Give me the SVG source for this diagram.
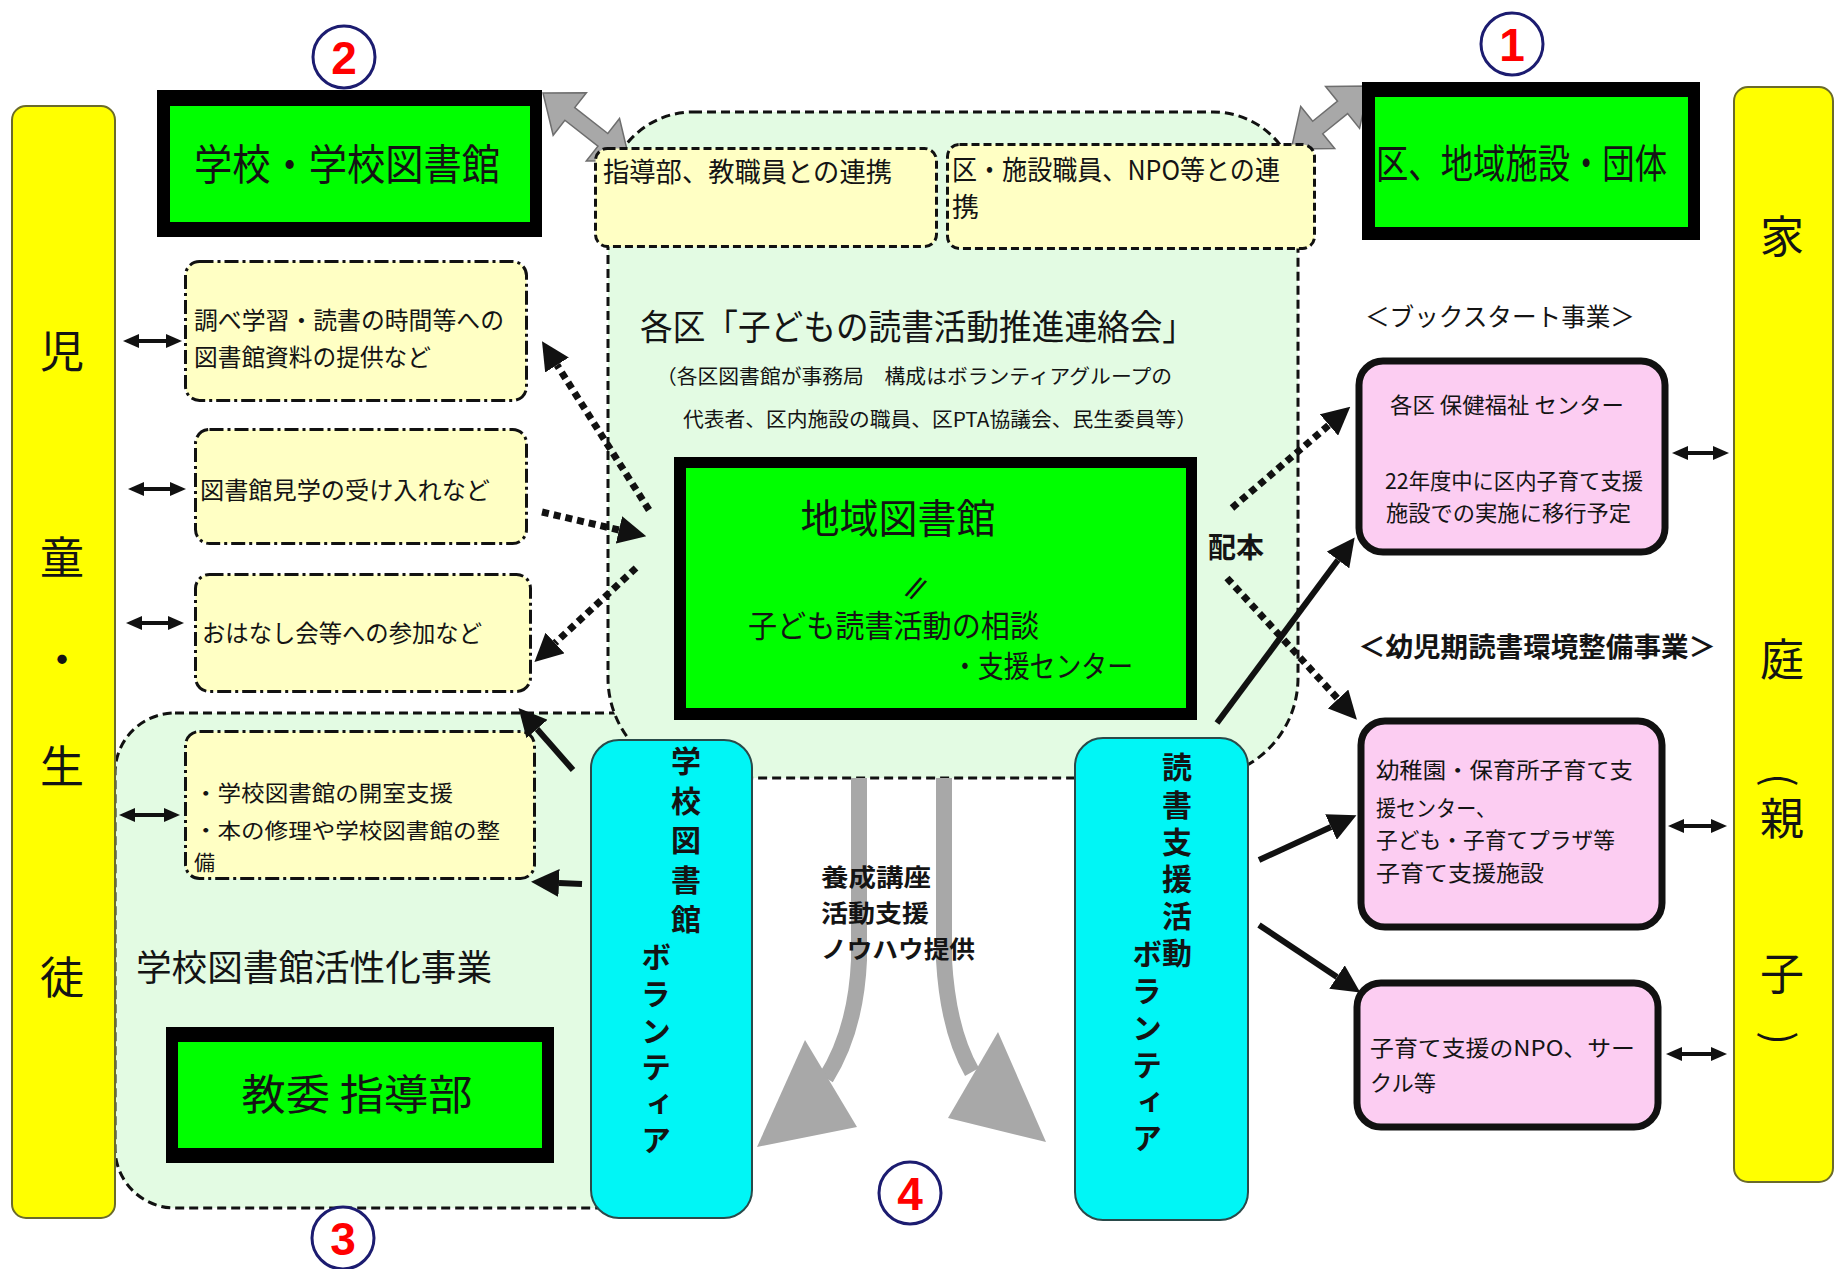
<svg xmlns="http://www.w3.org/2000/svg" width="1836" height="1269" viewBox="0 0 1836 1269">
<defs>
<style>
.jp{font-family:"Noto Sans CJK JP","Noto Sans CJK SC",sans-serif;fill:#141414;}
.b{font-weight:bold;}
.vt{writing-mode:vertical-rl;font-weight:bold;font-size:30px;}
.region{fill:#e3fbe3;stroke:#111;stroke-width:3;stroke-dasharray:9 5;}
.note{fill:#ffffc4;stroke:#111;stroke-width:3;stroke-dasharray:8 4;}
.dd{fill:#ffffc4;stroke:#111;stroke-width:3;stroke-dasharray:14 4 3 4;}
.bar{fill:#ffff00;stroke:#6b6b2a;stroke-width:2;}
.cyan{fill:#00f6f6;stroke:#2a4a4a;stroke-width:2;}
.pink{fill:#fccdf2;stroke:#111;stroke-width:7;}
.gout{fill:#000;}
.gin{fill:#00ff00;}
.dot{fill:none;stroke:#111;stroke-width:7;stroke-dasharray:7 5;marker-end:url(#ah);}
.sol{fill:none;stroke:#111;stroke-width:6;marker-end:url(#ah);}
.dbl{fill:none;stroke:#111;stroke-width:4;marker-start:url(#sh);marker-end:url(#sh);}
.gray{fill:#a8a8a8;stroke:#6e6e6e;stroke-width:1.5;}
.gshaft{fill:none;stroke:#a8a8a8;stroke-width:16;}
.numc{fill:#fff;stroke:#1c1c70;stroke-width:3;}
.num{font-family:"Liberation Sans",Arial,sans-serif;font-weight:bold;font-size:46px;fill:#ff0000;text-anchor:middle;}
.vc{text-anchor:middle;}
</style>
<marker id="ah" viewBox="0 0 28 28" refX="0" refY="14" markerWidth="28" markerHeight="28" markerUnits="userSpaceOnUse" orient="auto"><path d="M0,0 L28,14 L0,28 z" fill="#111"/></marker>
<marker id="sh" viewBox="0 0 16 14" refX="3" refY="7" markerWidth="16" markerHeight="14" markerUnits="userSpaceOnUse" orient="auto-start-reverse"><path d="M0,0 L16,7 L0,14 z" fill="#111"/></marker>
</defs>
<rect width="1836" height="1269" fill="#fff"/>

<g id="region-school">
<rect class="region" x="115" y="713" width="585" height="495" rx="60"/>
</g>
<g id="region-council">
<path class="region" d="M693 112 H1213 A85 85 0 0 1 1298 197 V678 A100 100 0 0 1 1198 778 H708 A100 100 0 0 1 608 678 V197 A85 85 0 0 1 693 112 Z"/>
<text class="jp" x="640" y="340" font-size="35" textLength="555" lengthAdjust="spacingAndGlyphs">各区「子どもの読書活動推進連絡会」</text>
<text class="jp" x="656" y="384" font-size="20" textLength="516" lengthAdjust="spacingAndGlyphs">（各区図書館が事務局　構成はボランティアグループの</text>
<text class="jp" x="683" y="427" font-size="20" textLength="514" lengthAdjust="spacingAndGlyphs">代表者、区内施設の職員、区PTA協議会、民生委員等）</text>
</g>

<g id="gray-arrows-top">
<g transform="translate(543,93) rotate(38)"><polygon class="gray" points="0,0 34,-27 34,-8 76,-8 76,-27 110,0 76,27 76,8 34,8 34,27"/></g>
<g transform="translate(1369,86) rotate(141)"><polygon class="gray" points="0,0 34,-27 34,-8 66,-8 66,-27 100,0 66,27 66,8 34,8 34,27"/></g>
</g>

<g id="bar-children">
<rect class="bar" x="12" y="106" width="103" height="1112" rx="14"/>
<text class="jp vc" x="62" y="368" font-size="44">児</text>
<text class="jp vc" x="62" y="574" font-size="44">童</text>
<text class="jp vc" x="62" y="676" font-size="44">・</text>
<text class="jp vc" x="62" y="783" font-size="44">生</text>
<text class="jp vc" x="62" y="994" font-size="44">徒</text>
</g>
<g id="bar-family">
<rect class="bar" x="1734" y="87" width="99" height="1095" rx="14"/>
<text class="jp vc" x="1782" y="253" font-size="44">家</text>
<text class="jp vc" x="1782" y="676" font-size="44">庭</text>
<text class="jp vc" font-size="40" transform="translate(1782,780) rotate(90)" dominant-baseline="central">(</text>
<text class="jp vc" x="1782" y="835" font-size="44">親</text>
<text class="jp vc" x="1782" y="990" font-size="44">子</text>
<text class="jp vc" font-size="40" transform="translate(1782,1038) rotate(90)" dominant-baseline="central">)</text>
</g>

<g id="school-library">
<rect class="gout" x="157" y="90" width="385" height="147"/>
<rect class="gin" x="170" y="106" width="360" height="116"/>
<text class="jp vc" x="347" y="180" font-size="42" textLength="306" lengthAdjust="spacingAndGlyphs">学校・学校図書館</text>
</g>
<g id="ward-facilities">
<rect class="gout" x="1362" y="82" width="338" height="158"/>
<rect class="gin" x="1375" y="97" width="313" height="130"/>
<text class="jp" x="1376" y="178" font-size="40" textLength="291" lengthAdjust="spacingAndGlyphs">区、地域施設・団体</text>
</g>
<g id="local-library">
<rect class="gout" x="674" y="457" width="523" height="263"/>
<rect class="gin" x="686" y="468" width="500" height="240"/>
<text class="jp vc" x="898" y="533" font-size="40" textLength="195" lengthAdjust="spacingAndGlyphs">地域図書館</text>
<text class="jp vc b" font-size="28" transform="translate(912,599) skewX(-20)">∥</text>
<text class="jp" x="748" y="637" font-size="31" textLength="291" lengthAdjust="spacingAndGlyphs">子ども読書活動の相談</text>
<text class="jp" x="952" y="677" font-size="30" textLength="181" lengthAdjust="spacingAndGlyphs">・支援センター</text>
</g>
<g id="board-guidance">
<rect class="gout" x="166" y="1027" width="388" height="136"/>
<rect class="gin" x="178" y="1042" width="364" height="106"/>
<text class="jp vc" x="357" y="1110" font-size="42" textLength="231" lengthAdjust="spacingAndGlyphs">教委 指導部</text>
</g>

<g id="note-teachers">
<rect class="note" x="595.5" y="148.5" width="341" height="98" rx="12"/>
<text class="jp" x="603" y="182" font-size="27" textLength="289" lengthAdjust="spacingAndGlyphs">指導部、教職員との連携</text>
</g>
<g id="note-ward">
<rect class="note" x="947.5" y="144.5" width="367" height="104" rx="12"/>
<text class="jp" x="952" y="180" font-size="27" textLength="328" lengthAdjust="spacingAndGlyphs">区・施設職員、NPO等との連</text>
<text class="jp" x="952" y="217" font-size="27">携</text>
</g>

<g id="item-materials">
<rect class="dd" x="185.5" y="261.5" width="341" height="139" rx="14"/>
<text class="jp" x="194" y="329" font-size="24" textLength="310" lengthAdjust="spacingAndGlyphs">調べ学習・読書の時間等への</text>
<text class="jp" x="194" y="366" font-size="24" textLength="237" lengthAdjust="spacingAndGlyphs">図書館資料の提供など</text>
</g>
<g id="item-visit">
<rect class="dd" x="195.5" y="429.5" width="331" height="114" rx="14"/>
<text class="jp" x="200" y="499" font-size="24" textLength="290" lengthAdjust="spacingAndGlyphs">図書館見学の受け入れなど</text>
</g>
<g id="item-story">
<rect class="dd" x="195.5" y="574.5" width="335" height="117" rx="14"/>
<text class="jp" x="202" y="642" font-size="24" textLength="280" lengthAdjust="spacingAndGlyphs">おはなし会等への参加など</text>
</g>
<g id="item-support">
<rect class="dd" x="185.5" y="731.5" width="349" height="147" rx="14"/>
<text class="jp" x="194" y="801" font-size="22" textLength="259" lengthAdjust="spacingAndGlyphs">・学校図書館の開室支援</text>
<text class="jp" x="194" y="838" font-size="21" textLength="306" lengthAdjust="spacingAndGlyphs">・本の修理や学校図書館の整</text>
<text class="jp" x="194" y="870" font-size="21">備</text>
</g>
<g id="label-activation">
<text class="jp" x="136" y="981" font-size="36" textLength="356" lengthAdjust="spacingAndGlyphs">学校図書館活性化事業</text>
</g>

<g id="volunteer-school">
<rect class="cyan" x="591" y="740" width="161" height="478" rx="28"/>
<text class="jp vt" x="686" y="746" letter-spacing="9.5">学校図書館</text>
<text class="jp vt" x="656" y="942" letter-spacing="6.6">ボランティア</text>
</g>
<g id="volunteer-reading">
<rect class="cyan" x="1075" y="738" width="173" height="482" rx="28"/>
<text class="jp vt" x="1177" y="752" letter-spacing="7.2">読書支援活動</text>
<text class="jp vt" x="1147" y="939" letter-spacing="6.8">ボランティア</text>
</g>

<g id="label-bookstart">
<text class="jp" x="1365" y="326" font-size="25" textLength="270" lengthAdjust="spacingAndGlyphs">＜ブックスタート事業＞</text>
</g>
<g id="health-center">
<rect class="pink" x="1359" y="361" width="306" height="191" rx="24"/>
<text class="jp" x="1390" y="413" font-size="22" textLength="234" lengthAdjust="spacingAndGlyphs">各区 保健福祉 センター</text>
<text class="jp" x="1385" y="489" font-size="22" textLength="258" lengthAdjust="spacingAndGlyphs">22年度中に区内子育て支援</text>
<text class="jp" x="1386" y="521" font-size="22" textLength="245" lengthAdjust="spacingAndGlyphs">施設での実施に移行予定</text>
</g>
<g id="label-early">
<text class="jp b" x="1358" y="657" font-size="27" textLength="358" lengthAdjust="spacingAndGlyphs">＜幼児期読書環境整備事業＞</text>
</g>
<g id="kindergarten">
<rect class="pink" x="1361" y="721" width="301" height="206" rx="24"/>
<text class="jp" x="1376" y="778" font-size="22" textLength="257" lengthAdjust="spacingAndGlyphs">幼稚園・保育所子育て支</text>
<text class="jp" x="1376" y="816" font-size="22" textLength="120" lengthAdjust="spacingAndGlyphs">援センター、</text>
<text class="jp" x="1376" y="848" font-size="22" textLength="239" lengthAdjust="spacingAndGlyphs">子ども・子育てプラザ等</text>
<text class="jp" x="1376" y="881" font-size="22" textLength="168" lengthAdjust="spacingAndGlyphs">子育て支援施設</text>
</g>
<g id="npo-circle">
<rect class="pink" x="1357" y="983" width="301" height="144" rx="24"/>
<text class="jp" x="1370" y="1056" font-size="22" textLength="265" lengthAdjust="spacingAndGlyphs">子育て支援のNPO、サー</text>
<text class="jp" x="1370" y="1091" font-size="22" textLength="66" lengthAdjust="spacingAndGlyphs">クル等</text>
</g>

<g id="connectors">
<path class="gshaft" d="M859 778 L859 960 Q856 1030 826 1078"/>
<polygon fill="#a8a8a8" points="805,1040 857,1127 757,1147"/>
<path class="gshaft" d="M944 778 L944 960 Q948 1030 972 1072"/>
<polygon fill="#a8a8a8" points="998,1032 948,1118 1046,1142"/>
<line class="dot" x1="649" y1="510" x2="557" y2="365"/>
<line class="dot" x1="542" y1="512" x2="619" y2="530"/>
<line class="dot" x1="636" y1="568" x2="555" y2="643"/>
<line class="dot" x1="1232" y1="508" x2="1329" y2="425"/>
<line class="dot" x1="1227" y1="578" x2="1338" y2="699"/>
<line class="sol" x1="573" y1="770" x2="537" y2="729"/>
<line class="sol" x1="582" y1="884" x2="559" y2="883"/>
<line class="sol" x1="1217" y1="723" x2="1338" y2="560"/>
<line class="sol" x1="1259" y1="860" x2="1331" y2="827"/>
<line class="sol" x1="1259" y1="925" x2="1337" y2="977"/>
<line class="dbl" x1="136" y1="341" x2="169" y2="341"/>
<line class="dbl" x1="141" y1="489" x2="173" y2="489"/>
<line class="dbl" x1="139" y1="623" x2="171" y2="623"/>
<line class="dbl" x1="132" y1="815" x2="167" y2="815"/>
<line class="dbl" x1="1685" y1="453" x2="1716" y2="453"/>
<line class="dbl" x1="1681" y1="826" x2="1714" y2="826"/>
<line class="dbl" x1="1679" y1="1054" x2="1714" y2="1054"/>
<text class="jp b vc" x="1236" y="558" font-size="28">配本</text>
<text class="jp b" x="821" y="886" font-size="24" textLength="110" lengthAdjust="spacingAndGlyphs">養成講座</text>
<text class="jp b" x="821" y="922" font-size="24" textLength="108" lengthAdjust="spacingAndGlyphs">活動支援</text>
<text class="jp b" x="821" y="958" font-size="24" textLength="154" lengthAdjust="spacingAndGlyphs">ノウハウ提供</text>
</g>

<g id="marker-1"><circle class="numc" cx="1512" cy="44" r="31"/><text class="num" x="1512" y="61">1</text></g>
<g id="marker-2"><circle class="numc" cx="344" cy="57" r="31"/><text class="num" x="344" y="74">2</text></g>
<g id="marker-3"><circle class="numc" cx="343" cy="1238" r="31"/><text class="num" x="343" y="1255">3</text></g>
<g id="marker-4"><circle class="numc" cx="910" cy="1193" r="31"/><text class="num" x="910" y="1210">4</text></g>
</svg>
